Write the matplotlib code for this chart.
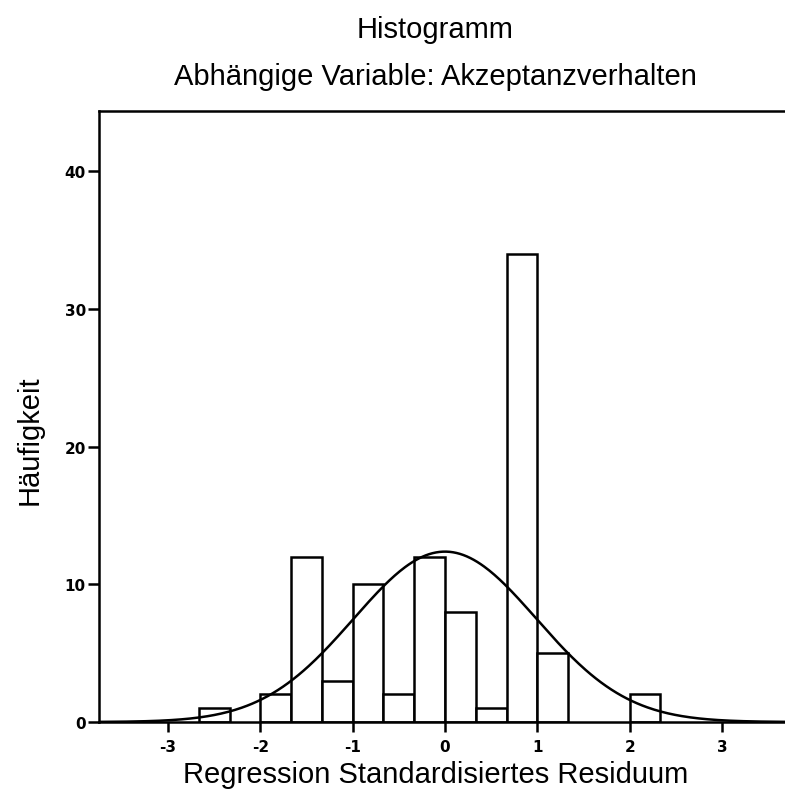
import numpy as np
import matplotlib
matplotlib.use("Agg")
import matplotlib.pyplot as plt

# Data
bin_left_edges = [-8/3, -7/3, -2, -5/3, -4/3, -1, -2/3, -1/3, 0, 1/3, 2/3, 1, 4/3, 5/3, 2]
counts =         [1,    0,    2,  12,   3,    10, 2,    12,   8, 1,   34,  5, 0,   0,   2]
bin_width = 1/3
curve_mean = 0.0
curve_sd = 0.989
n_total = sum(counts)

title = "Histogramm"
subtitle = "Abhängige Variable: Akzeptanzverhalten"
xlabel = "Regression Standardisiertes Residuum"
ylabel = "Häufigkeit"
xticks = [-3, -2, -1, 0, 1, 2, 3]
yticks = [0, 10, 20, 30, 40]

plt.rcParams['font.family'] = ['Liberation Sans', 'DejaVu Sans']

W, H = 785, 803
fig = plt.figure(figsize=(W / 100, H / 100), dpi=100)
ax = fig.add_axes([99 / W, 1 - 723 / H, 1 - 99 / W, (723 - 112) / H])

for left, c in zip(bin_left_edges, counts):
    if c > 0:
        ax.bar(left, c, width=bin_width, align='edge', facecolor='white',
               edgecolor='black', linewidth=1.8, zorder=2)

xlim = (-3.747, 3.682)
xs = np.linspace(xlim[0], xlim[1], 400)
ys = n_total * bin_width / (curve_sd * np.sqrt(2 * np.pi)) * np.exp(-0.5 * ((xs - curve_mean) / curve_sd) ** 2)
ax.plot(xs, ys, color='black', linewidth=1.8, zorder=3)

ax.set_xlim(*xlim)
ax.set_ylim(0, 44.36)
ax.set_xticks(xticks)
ax.set_yticks(yticks)
ax.set_xticklabels([str(t) for t in xticks], fontfamily='DejaVu Sans', fontweight='bold', fontsize=11)
ax.set_yticklabels([str(t) for t in yticks], fontfamily='DejaVu Sans', fontweight='bold', fontsize=11)
ax.tick_params(axis='x', direction='out', length=7, width=1.8, color='black', pad=5)
ax.tick_params(axis='y', direction='out', length=8, width=1.8, color='black', pad=1.5)

for s in ['left', 'top', 'bottom']:
    ax.spines[s].set_linewidth(1.8)
ax.spines['right'].set_visible(False)

fs = 21
fig.text(435 / W, 1 - 38 / H, title, ha='center', va='baseline', fontsize=fs)
fig.text(435 / W, 1 - 85 / H, subtitle, ha='center', va='baseline', fontsize=fs)
fig.text(436 / W, 1 - 783 / H, xlabel, ha='center', va='baseline', fontsize=fs)
fig.text(30 / W, 1 - 440 / H, ylabel, ha='center', va='center', rotation=90, fontsize=fs)

fig.savefig("out.png", dpi=100)
